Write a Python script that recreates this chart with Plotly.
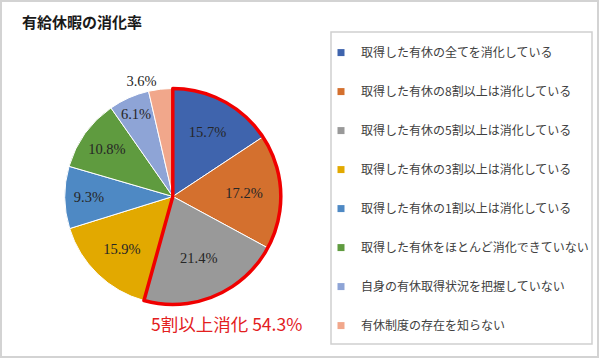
import plotly.graph_objects as go

# ---- data ----
labels = [
    "取得した有休の全てを消化している",
    "取得した有休の8割以上は消化している",
    "取得した有休の5割以上は消化している",
    "取得した有休の3割以上は消化している",
    "取得した有休の1割以上は消化している",
    "取得した有休をほとんど消化できていない",
    "自身の有休取得状況を把握していない",
    "有休制度の存在を知らない",
]
values = [15.7, 17.2, 21.4, 15.9, 9.3, 10.8, 6.1, 3.6]
colors = ["#3F64AD", "#D4702E", "#999999", "#E2A900",
          "#4E89C4", "#5F9B3F", "#8EA4D6", "#F1A78B"]
highlight_count = 3
title_text = "有給休暇の消化率"
highlight_text = "5割以上消化 54.3%"

serif = "Liberation Serif, Noto Sans CJK JP"
cjk = "Noto Sans CJK JP, Noto Sans CJK SC"

domain = dict(x=[0.108, 0.468], y=[0.1565, 0.755])

fig = go.Figure()

textpos = ["inside"] * (len(values) - 1) + ["outside"]
fig.add_trace(go.Pie(
    labels=labels, values=values, sort=False, direction="clockwise",
    rotation=0, domain=domain,
    marker=dict(colors=colors, line=dict(color="white", width=1)),
    texttemplate="%{value:.1f}%", textposition=textpos,
    insidetextorientation="horizontal",
    textfont=dict(family=serif, size=14.5, color="#262626"),
    showlegend=False, hoverinfo="label+value",
))

# red outline around the highlighted group
hl_vals = [sum(values[:highlight_count]), sum(values[highlight_count:])]
fig.add_trace(go.Pie(
    values=hl_vals, labels=["hl", "rest"], sort=False, direction="clockwise",
    rotation=0, domain=domain,
    marker=dict(colors=["rgba(0,0,0,0)", "rgba(0,0,0,0)"],
                line=dict(color=["#F00000", "rgba(0,0,0,0)"], width=[3.5, 0])),
    textinfo="none", showlegend=False, hoverinfo="skip",
))

# legend entries
for lab, col in zip(labels, colors):
    fig.add_trace(go.Scatter(
        x=[None], y=[None], mode="markers", name=lab, legendgroup=lab,
        marker=dict(symbol="square", size=7, color=col),
    ))

fig.update_layout(
    width=600, height=361,
    margin=dict(l=0, r=0, t=0, b=0),
    paper_bgcolor="white", plot_bgcolor="white",
    xaxis=dict(visible=False), yaxis=dict(visible=False),
    legend=dict(
        x=0.535, xanchor="left", y=0.8945, yanchor="top",
        font=dict(family=cjk, size=12, color="#404040"),
        tracegroupgap=20, bgcolor="rgba(0,0,0,0)", borderwidth=0,
    ),
    annotations=[
        dict(text=f"<b>{title_text}</b>", x=20 / 600, y=1 - 22 / 361,
             xref="paper", yref="paper", xanchor="left", yanchor="middle",
             showarrow=False, font=dict(family=cjk, size=15, color="#1a1a1a")),
        dict(text=highlight_text, x=226 / 600, y=1 - 323 / 361,
             xref="paper", yref="paper", xanchor="center", yanchor="middle",
             showarrow=False, font=dict(family=cjk, size=17.5, color="#E3201E")),
    ],
    shapes=[
        dict(type="rect", xref="paper", yref="paper",
             x0=1 / 600, x1=598 / 600, y0=1 - 357 / 361, y1=1 - 1 / 361,
             line=dict(color="#D3D3D3", width=2)),
        dict(type="rect", xref="paper", yref="paper",
             x0=331 / 600, x1=592 / 600, y0=1 - 344 / 361, y1=1 - 32 / 361,
             line=dict(color="#D0D0D0", width=1.5)),
    ],
)

fig.write_html("out.html", config={"displayModeBar": False},
               post_script="document.body.style.margin='0';document.body.style.padding='0';")
